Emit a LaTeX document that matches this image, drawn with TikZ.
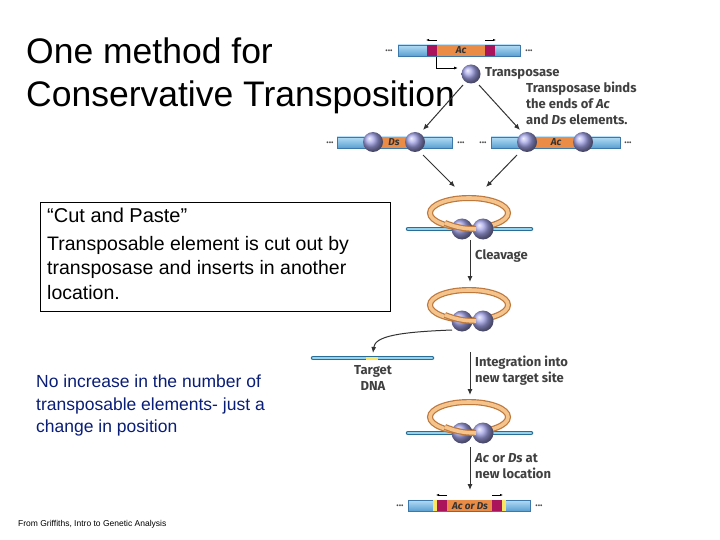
\documentclass[tikz,border=0pt]{standalone}
\usepackage{fontspec}
\setmainfont{Liberation Sans}
\newfontfamily\figfont{Fira Sans}
\usetikzlibrary{arrows.meta}
\definecolor{ballcol}{RGB}{160,160,230}
\definecolor{dnaedge}{RGB}{60,120,170}
\definecolor{dnatop}{RGB}{180,220,245}
\definecolor{dnabot}{RGB}{90,160,210}
\definecolor{dnadark}{RGB}{40,110,150}
\definecolor{dnalight}{RGB}{150,210,235}
\definecolor{elemcol}{RGB}{235,140,70}
\definecolor{magcol}{RGB}{170,20,90}
\definecolor{ringout}{RGB}{190,120,60}
\definecolor{ringin}{RGB}{245,195,140}
\definecolor{yelcol}{RGB}{250,230,100}
\definecolor{navy}{RGB}{10,30,120}
\begin{document}
\begin{tikzpicture}[x=1pt,y=-1pt,
  lbl/.style={font=\figfont\bfseries\fontsize{13}{16}\selectfont,text=black!75,align=left,anchor=west,inner sep=0},
  arr/.style={-{Latex[length=6pt,width=5pt]},line width=1pt,draw=black!80},
  ballc/.style={shading=ball,ball color=ballcol},
  dna/.style={draw=dnaedge,line width=0.6pt,top color=dnatop,bottom color=dnabot},
  dnathin/.style={draw=dnadark,line width=4.5pt,line cap=round},
  dnain/.style={draw=dnalight,line width=2.5pt,line cap=round},
  elem/.style={fill=elemcol},
  mag/.style={fill=magcol},
  elt/.style={font=\figfont\bfseries\itshape\fontsize{10}{10}\selectfont,text=black!80},
  dots/.style={font=\figfont\bfseries\fontsize{10}{10}\selectfont,text=black!70}]
\fill[white] (0,0) rectangle (720,540);
\useasboundingbox (0,0) rectangle (720,540);
% titles
\node[anchor=west,inner sep=0,font=\fontsize{35.5}{43}\selectfont,align=left] (title) at (26,76) {One method for\\Conservative Transposition};
\node[draw,line width=0.6pt,minimum width=350,minimum height=109,anchor=north west] (box) at (40,202) {};
\node[anchor=north west,inner sep=0,font=\fontsize{20}{24}\selectfont] (cp) at (47,208) {“Cut and Paste”};
\node[anchor=north west,inner sep=0,font=\fontsize{19.5}{24.5}\selectfont,align=left] (bt) at (47,236) {Transposable element is cut out by\\transposase and inserts in another\\location.};
\node[anchor=north west,inner sep=0,font=\fontsize{17.5}{22.5}\selectfont,align=left,text=navy] (inc) at (36,375) {No increase in the number of\\transposable elements- just a\\change in position};
\node[anchor=west,inner sep=0,font=\fontsize{8.5}{10}\selectfont] (src) at (18,524) {From Griffiths, Intro to Genetic Analysis};
% top chromosome
\draw[dna] (398,45) rectangle (520,56);
\fill[mag] (427,45) rectangle (437,56); \fill[elem] (437,45) rectangle (485,56); \fill[mag] (485,45) rectangle (495,56);
\node[elt] (ac1) at (461,50.5) {Ac};
\node[dots] (d1) at (389,51) {...}; \node[dots] (d2) at (529,51) {...};
\draw[-{Latex[length=3pt]},line width=0.5pt] (437,40) -- (426,40);
\draw[-{Latex[length=3pt]},line width=0.5pt] (485,40) -- (496,40);
\coordinate (bend) at (436,57);
\node[ballc,circle,minimum size=19,inner sep=0] (tp) at (471,74) {};
\draw[-{Latex[length=4pt]},line width=0.8pt] (bend) |- (458,68);
\node[lbl] (tpl) at (485,73) {Transposase};
\node[lbl,anchor=north west] (binds) at (526,82) {Transposase binds\\the ends of \textit{Ac}\\and \textit{Ds} elements.};
% second row
\draw[dna] (337,137) rectangle (452,148);
\fill[elem] (375,137) rectangle (412,148);
\node[elt] (dsl) at (394,142.5) {Ds};
\node[ballc,circle,minimum size=20,inner sep=0] (b1) at (373,142) {};
\node[ballc,circle,minimum size=20,inner sep=0] (b2) at (415,142) {};
\node[dots] (d3) at (330,143) {...}; \node[dots] (d4) at (461,143) {...};
\draw[dna] (491,137) rectangle (620,148);
\fill[elem] (528,137) rectangle (584,148);
\node[elt] (acl) at (556,142.5) {Ac};
\node[ballc,circle,minimum size=20,inner sep=0] (b3) at (527,142) {};
\node[ballc,circle,minimum size=20,inner sep=0] (b4) at (583,142) {};
\node[dots] (d5) at (483,143) {...}; \node[dots] (d6) at (628,143) {...};
\draw[arr] (463,85) coordinate (t1) -- (423,130) coordinate (e1);
\draw[arr] (479,85) coordinate (t2) -- (520,130) coordinate (e2);
\draw[arr] (423,155) coordinate (s3) -- (455,187) coordinate (e3);
\draw[arr] (517,155) coordinate (s4) -- (486,187) coordinate (e4);
% loops
\foreach \y/\withline/\nm in {229/1/la,321/0/lb,433/1/lc}{
  \ifnum\withline=1
    \draw[dnathin] (408,\y) -- (531,\y);
    \draw[dnain] (408,\y) -- (531,\y);
  \fi
  \draw[line width=6pt,draw=ringout] (469,\y-16) ellipse [x radius=39,y radius=15];
  \draw[line width=3.6pt,draw=ringin] (469,\y-16) ellipse [x radius=39,y radius=15];
  \node[ballc,circle,minimum size=21,inner sep=0] (\nm1) at (462,\y) {};
  \node[ballc,circle,minimum size=21,inner sep=0] (\nm2) at (483,\y) {};
  \draw[line width=6pt,draw=ringout] (445,\y-6) to[bend right=10] (476,\y);
  \draw[line width=3.6pt,draw=ringin] (445,\y-6) to[bend right=10] (476,\y);
}
\draw[arr] (470,240) coordinate (s5) -- (470,282) coordinate (e5);
\node[lbl] (clv) at (475,256) {Cleavage};
\draw[arr] (452,330) coordinate (s6) .. controls (400,332) and (375,336) .. (373,353) coordinate (e6);
% target DNA
\draw[dnathin] (313,358) -- (432,358);
\draw[dnain] (313,358) -- (432,358);
\fill[yelcol] (366,356.5) rectangle (378,359.5);
\node[lbl,anchor=north,align=center] (tdna) at (373,365) {Target\\DNA};
\draw[arr] (470,352) coordinate (s7) -- (470,395) coordinate (e7);
\node[lbl,anchor=north west] (integ) at (475,356) {Integration into\\new target site};
\draw[arr] (470,447) coordinate (s8) -- (470,490) coordinate (e8);
\node[lbl,anchor=north west] (newloc) at (475,453) {\textit{Ac} or \textit{Ds} at\\new location};
% final chromosome
\draw[dna] (408,500) rectangle (530,511);
\fill[yelcol] (433,500) rectangle (437,511);
\fill[mag] (437,500) rectangle (447,511); \fill[elem] (447,500) rectangle (492,511); \fill[mag] (492,500) rectangle (502,511);
\fill[yelcol] (502,500) rectangle (506,511);
\node[elt] (acds) at (470,506) {Ac or Ds};
\node[dots] (d7) at (400,506) {...}; \node[dots] (d8) at (539,506) {...};
\draw[-{Latex[length=3pt]},line width=0.5pt] (447,495) -- (436,495);
\draw[-{Latex[length=3pt]},line width=0.5pt] (492,495) -- (503,495);
\end{tikzpicture}
\end{document}
